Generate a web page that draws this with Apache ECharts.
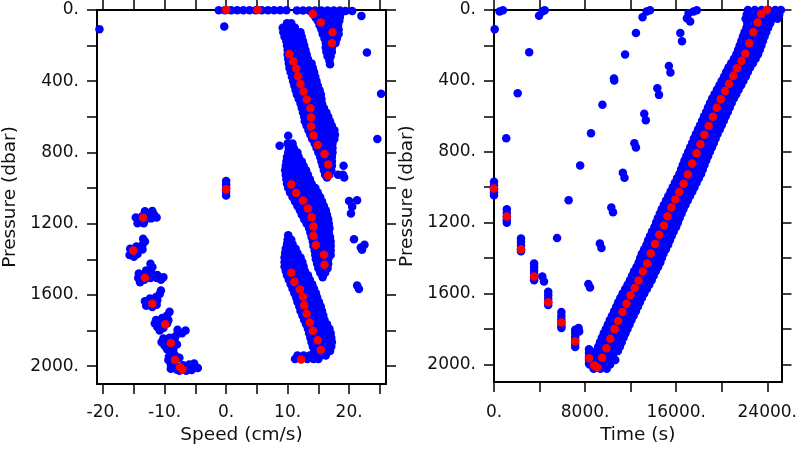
<!DOCTYPE html>
<html>
<head>
<meta charset="utf-8">
<script src="https://cdn.jsdelivr.net/npm/echarts@6/dist/echarts.min.js"></script>
<style>
html,body{margin:0;padding:0;background:#fff;}
#chart{width:800px;height:450px;}
</style>
</head>
<body>
<div id="chart"></div>
<script>
// ---------------- DATA ----------------
// Tick values and labels
const pressureTicks = [0, 200, 400, 600, 800, 1000, 1200, 1400, 1600, 1800, 2000];
const pressureLabels = [0, 400, 800, 1200, 1600, 2000];
const speedTicks = [-20, -15, -10, -5, 0, 5, 10, 15, 20, 25];
const speedLabels = [-20, -10, 0, 10, 20];
const timeTicks = [0, 4000, 8000, 12000, 16000, 20000, 24000];
const timeLabels = [0, 8000, 16000, 24000];

// Averaged profile (red): downcast and upcast
const redDownPressure = [1007, 1166, 1350, 1504, 1649, 1764, 1870, 1965, 2006, 2018];
const redDownSpeed = [0, -13.5, -15.1, -13.2, -12.0, -9.9, -9.0, -8.3, -7.5, -7.1];
const redDownTime = [0, 1126, 2372, 3524, 4762, 5918, 7130, 8346, 8805, 9093];
const redUpPressure = [1963, 1909, 1855, 1801, 1755, 1705, 1658, 1610, 1569, 1527,
  1476, 1430, 1374, 1320, 1268, 1216, 1164, 1114, 1070, 1027,
  980, 929, 867, 808, 758, 704, 654, 603, 552, 503,
  457, 416, 372, 329, 288, 247, 187, 125, 70, 23, 0];
const redUpSpeed = [12.2, 15.4, 14.9, 14.1, 13.6, 13.1, 12.7, 12.5, 12.0, 11.1,
  10.6, 16.0, 15.9, 14.6, 14.2, 14.2, 13.9, 13.3, 12.5, 11.4,
  10.6, 16.6, 16.6, 16.0, 14.9, 14.2, 13.8, 13.8, 13.7, 13.1,
  12.6, 12.1, 11.7, 11.4, 10.9, 10.3, 17.2, 17.3, 15.4, 14.1, 5.1];
const redUpTime = [9498, 9870, 10216, 10597, 10909, 11290, 11636, 11983, 12355, 12701,
  13074, 13450, 13766, 14147, 14519, 14926, 15238, 15584, 15931, 16277,
  16658, 17030, 17403, 17784, 18130, 18476, 18853, 19221, 19567, 19913,
  20294, 20641, 21013, 21333, 21732, 22078, 22424, 22771, 23152, 23463, 23957];
const surfaceRedSpeed = [0];
const surfaceRedPressure = [0];

// Individual estimates (blue), speed panel: rows [pressure, speed, speed, ...]
const speedSurfaceRows = [
  [2, -1.2, -0.2, 0.8, 1.8, 2.8, 3.8, 4.8, 5.8, 6.8, 7.8, 8.8, 9.8]
];
const speedTopBlobRows = [
  [3, 11.5, 12.5, 13.5, 14.5, 15.5, 16.5, 17.5, 18.5],
  [20, 14.1, 15.1, 16.1, 17.1, 18.1, 18.6],
  [40, 14.5, 15.5, 16.5, 17.5, 18.5],
  [60, 14.9, 15.9, 16.9, 17.9, 18.4],
  [85, 15.2, 16.2, 17.2, 18.2],
  [110, 15.5, 16.5, 17.5, 18.3],
  [135, 15.7, 16.7, 17.7, 18.3],
  [160, 16.0, 17.0, 18.0],
  [185, 16.2, 17.2, 17.8],
  [210, 16.2, 17.2],
  [235, 16.3, 17.2],
  [260, 16.5, 17.0],
  [285, 16.8],
  [305, 16.9]
];
const speedUpperBandRows = [
  [75, 9.9, 10.6],
  [100, 9.2, 10.2, 11.2],
  [125, 9.3, 10.3, 11.3, 12.1],
  [150, 9.5, 10.5, 11.5, 12.3],
  [175, 9.8, 10.8, 11.8, 12.5],
  [200, 9.9, 10.9, 11.9, 12.7],
  [225, 10.0, 11.0, 12.0, 12.9],
  [250, 10.0, 11.0, 12.0, 13.1],
  [275, 10.1, 11.1, 12.1, 13.3],
  [300, 10.2, 11.2, 12.2, 13.2, 13.9],
  [325, 10.3, 11.3, 12.3, 13.3, 14.1],
  [350, 10.5, 11.5, 12.5, 13.5, 14.3],
  [375, 10.7, 11.7, 12.7, 13.6, 14.5],
  [400, 10.9, 11.9, 12.9, 13.9, 14.7],
  [425, 11.1, 12.1, 13.1, 14.1, 14.9],
  [450, 11.3, 12.3, 13.3, 14.3, 15.2],
  [475, 11.5, 12.5, 13.5, 14.5, 15.4],
  [500, 11.8, 12.8, 13.8, 14.7, 15.5],
  [525, 12.1, 13.0, 14.0, 15.0, 15.6],
  [550, 12.3, 13.3, 14.3, 15.2, 15.9],
  [575, 12.5, 13.5, 14.5, 15.5, 16.3],
  [600, 12.7, 13.7, 14.7, 15.7, 16.6],
  [625, 12.8, 13.8, 14.8, 15.8, 16.9],
  [650, 13.1, 14.1, 15.1, 16.1, 17.2],
  [675, 13.4, 14.4, 15.4, 16.4, 17.6],
  [700, 13.7, 14.7, 15.7, 16.7, 17.7],
  [725, 14.0, 15.0, 16.0, 17.0, 17.6],
  [750, 14.4, 15.4, 16.4, 17.3],
  [775, 14.7, 15.6, 16.5, 17.3],
  [800, 15.0, 15.9, 16.8, 17.3],
  [825, 15.3, 16.2, 17.2],
  [850, 15.5, 16.4, 17.2],
  [875, 15.7, 16.5, 17.2, 19.1],
  [900, 15.9, 16.6, 17.1],
  [925, 16.1, 16.8, 18.2, 19.0],
  [940, 16.4, 19.2]
];
const speedMiddleBandRows = [
  [706, 10.1],
  [750, 10.0, 10.8],
  [775, 10.2, 11.0],
  [800, 10.1, 11.0, 11.6],
  [825, 9.9, 10.9, 11.8],
  [850, 9.8, 10.8, 11.8, 12.3],
  [875, 9.7, 10.7, 11.7, 12.6],
  [900, 9.6, 10.6, 11.6, 12.6, 13.0],
  [925, 9.7, 10.7, 11.7, 12.7, 13.3],
  [950, 9.8, 10.8, 11.8, 12.8, 13.6],
  [975, 9.9, 10.9, 11.9, 12.9, 13.9],
  [1000, 10.1, 11.1, 12.1, 13.1, 14.1, 14.5],
  [1025, 10.4, 11.4, 12.4, 13.4, 14.4, 14.9],
  [1050, 10.8, 11.8, 12.8, 13.8, 14.8, 15.3],
  [1075, 11.2, 12.2, 13.2, 14.2, 15.2, 15.6],
  [1100, 11.6, 12.6, 13.6, 14.6, 15.6, 15.9],
  [1125, 12.0, 13.0, 14.0, 15.0, 16.0, 16.2],
  [1150, 12.3, 13.3, 14.3, 15.3, 16.4],
  [1175, 12.7, 13.7, 14.7, 15.7, 16.6],
  [1200, 13.1, 14.1, 15.1, 16.1, 16.7],
  [1225, 13.5, 14.5, 15.5, 16.5, 16.8],
  [1250, 13.7, 14.7, 15.7, 16.7],
  [1275, 13.9, 14.9, 15.9, 16.9],
  [1300, 14.1, 15.1, 16.1, 17.0],
  [1325, 14.2, 15.2, 16.2, 17.0],
  [1350, 14.4, 15.4, 16.4, 17.0],
  [1375, 14.5, 15.5, 16.5, 17.0],
  [1400, 14.6, 15.6, 16.6],
  [1425, 14.8, 15.7, 16.6],
  [1450, 15.0, 15.9, 16.5],
  [1475, 15.3, 16.1],
  [1500, 15.7]
];
const speedLowerBandRows = [
  [1265, 10.1],
  [1290, 10.0, 10.6],
  [1315, 9.9, 10.8],
  [1340, 9.7, 10.7, 11.3],
  [1365, 9.6, 10.6, 11.6],
  [1390, 9.5, 10.5, 11.5, 12.1],
  [1415, 9.5, 10.5, 11.5, 12.4],
  [1440, 9.5, 10.5, 11.5, 12.6],
  [1465, 9.7, 10.7, 11.7, 12.8],
  [1490, 9.9, 10.9, 11.9, 12.9, 13.3],
  [1515, 10.2, 11.2, 12.2, 13.2, 13.6],
  [1540, 10.5, 11.5, 12.5, 13.5, 14.0],
  [1565, 10.8, 11.8, 12.8, 13.8, 14.3],
  [1590, 11.1, 12.1, 13.1, 14.1, 14.6],
  [1615, 11.4, 12.4, 13.4, 14.4, 14.8],
  [1640, 11.6, 12.6, 13.6, 14.6, 15.1],
  [1665, 11.9, 12.9, 13.9, 14.9, 15.4],
  [1690, 12.1, 13.1, 14.1, 15.1, 15.6],
  [1715, 12.4, 13.4, 14.4, 15.4, 15.8],
  [1740, 12.7, 13.7, 14.7, 15.7, 16.0],
  [1765, 13.0, 14.0, 15.0, 16.0, 16.4],
  [1790, 13.3, 14.3, 15.3, 16.3, 16.8],
  [1815, 13.5, 14.5, 15.5, 16.5, 17.0],
  [1840, 13.7, 14.7, 15.7, 16.7, 17.1],
  [1865, 13.9, 14.9, 15.9, 16.9, 17.2],
  [1890, 14.1, 15.1, 16.1, 17.1],
  [1915, 14.3, 15.3, 16.3, 16.9],
  [1940, 11.6, 12.6, 13.6, 14.5, 15.4, 16.2],
  [1960, 11.2, 12.2, 13.2, 14.2, 15.0]
];
// Individual points [speed, pressure]: downcast clusters and scattered values
const speedDownPoints = [
  [-14.7,1165],[-13.7,1160],[-12.7,1150],[-11.7,1150],[-11.3,1165],[-13.2,1130],[-12.0,1128],[-14.2,1185],[-13.2,1180],[-12.2,1170],[-14.4,1198],[-13.4,1198],
  [-13.5,1285],[-13.2,1300],[-13.6,1318],[-14.6,1328],[-15.6,1340],[-14.6,1350],[-13.6,1345],[-15.4,1365],[-14.4,1370],[-15.0,1385],[-15.7,1375],
  [-12.3,1425],[-12.0,1445],[-13.0,1462],[-14.2,1480],[-13.2,1485],[-12.2,1478],[-11.2,1488],[-10.2,1500],[-14.3,1505],[-13.3,1515],[-12.3,1505],[-14.0,1528],[-10.6,1515],[-11.3,1505],
  [-10.6,1575],[-10.8,1595],[-11.4,1612],[-12.4,1620],[-13.2,1635],[-12.2,1645],[-11.2,1630],[-13.0,1660],[-12.0,1668],[-11.3,1655],
  [-9.2,1695],[-9.6,1715],[-10.4,1730],[-11.4,1740],[-11.6,1760],[-10.6,1752],[-9.6,1760],[-11.2,1780],[-10.2,1785],[-10.8,1800],[-9.4,1742],
  [-7.9,1795],[-6.6,1800],[-7.2,1815],[-8.2,1830],[-9.2,1840],[-10.2,1845],[-10.5,1865],[-9.5,1865],[-8.4,1855],[-10.0,1885],[-9.0,1890],[-8.0,1878],[-9.6,1905],[-8.6,1910],
  [-9.3,1945],[-8.3,1940],[-7.6,1952],[-9.4,1965],[-8.6,1975],[-9.0,1990],[-8.0,2000],[-7.0,1995],[-6.0,1990],[-5.2,1985],[-5.0,2005],[-6.0,2010],[-7.0,2015],[-8.0,2020],[-9.0,2015],[-6.5,2025],[-5.6,2022],[-4.6,2010],[-7.6,2025]
];
const speedOtherPoints = [
  [0,960],[0,980],[0,1000],[0,1020],[0,1042],[-0.3,93],
  [-20.6,108],[22.0,33],[22.9,238],[25.2,470],[24.6,724],[8.7,762],
  [20.0,1073],[21.3,1068],[20.5,1105],[20.3,1142],[20.8,1287],[21.9,1333],[22.5,1318],[22.1,1346],
  [21.3,1547],[21.6,1566],[19.4,6],[20.5,6]
];

// Individual estimates (blue), time panel: rows [pressure, time, time, ...]
const timeBandRows = [
  [2025, 8750, 9350, 9900],
  [2000, 8400, 9000, 9600, 10200],
  [1975, 8400, 9000, 9600, 10200, 10650],
  [1950, 8900, 9500, 10100, 10450],
  [1925, 8980, 9615, 10250, 10885],
  [1900, 9150, 9785, 10420, 11055],
  [1875, 9310, 9945, 10580, 11215],
  [1850, 9470, 10105, 10740, 11375],
  [1825, 9640, 10275, 10910, 11545],
  [1800, 9820, 10455, 11090, 11725],
  [1775, 10000, 10635, 11270, 11905],
  [1750, 10170, 10805, 11440, 12075],
  [1725, 10360, 10995, 11630, 12265],
  [1700, 10550, 11185, 11820, 12455],
  [1675, 10730, 11365, 12000, 12635],
  [1650, 10910, 11545, 12180, 12815],
  [1625, 11090, 11725, 12360, 12995],
  [1600, 11290, 11925, 12560, 13195],
  [1575, 11520, 12155, 12790, 13425],
  [1550, 11730, 12365, 13000, 13635],
  [1525, 11940, 12575, 13210, 13845],
  [1500, 12120, 12755, 13390, 14025],
  [1475, 12300, 12935, 13570, 14205],
  [1450, 12510, 13145, 13780, 14415],
  [1425, 12700, 13335, 13970, 14605],
  [1400, 12840, 13475, 14110, 14745],
  [1375, 12980, 13615, 14250, 14885],
  [1350, 13190, 13825, 14460, 15095],
  [1325, 13390, 14025, 14660, 15295],
  [1300, 13540, 14175, 14810, 15445],
  [1275, 13700, 14335, 14970, 15605],
  [1250, 13880, 14515, 15150, 15785],
  [1225, 14090, 14725, 15360, 15995],
  [1200, 14240, 14875, 15510, 16145],
  [1175, 14390, 15025, 15660, 16295],
  [1150, 14560, 15195, 15830, 16465],
  [1125, 14730, 15365, 16000, 16635],
  [1100, 14910, 15545, 16180, 16815],
  [1075, 15110, 15745, 16380, 17015],
  [1050, 15310, 15945, 16580, 17215],
  [1025, 15510, 16145, 16780, 17415],
  [1000, 15700, 16335, 16970, 17605],
  [975, 15890, 16525, 17160, 17795],
  [950, 16080, 16715, 17350, 17985],
  [925, 16280, 16915, 17550, 18185],
  [900, 16430, 17065, 17700, 18335],
  [875, 16580, 17215, 17850, 18485],
  [850, 16730, 17365, 18000, 18635],
  [825, 16890, 17525, 18160, 18795],
  [800, 17060, 17695, 18330, 18965],
  [775, 17240, 17875, 18510, 19145],
  [750, 17400, 18035, 18670, 19305],
  [725, 17560, 18195, 18830, 19465],
  [700, 17730, 18365, 19000, 19635],
  [675, 17920, 18555, 19190, 19825],
  [650, 18100, 18735, 19370, 20005],
  [625, 18280, 18915, 19550, 20185],
  [600, 18450, 19085, 19720, 20355],
  [575, 18630, 19265, 19900, 20535],
  [550, 18800, 19435, 20070, 20705],
  [525, 18970, 19605, 20240, 20875],
  [500, 19160, 19795, 20430, 21065],
  [475, 19370, 20005, 20640, 21275],
  [450, 19580, 20215, 20850, 21485],
  [425, 19800, 20435, 21070, 21705],
  [400, 20000, 20635, 21270, 21905],
  [375, 20210, 20845, 21480, 22115],
  [350, 20390, 21025, 21660, 22295],
  [325, 20590, 21225, 21860, 22495],
  [300, 20830, 21465, 22100, 22735],
  [275, 21070, 21705, 22340, 22975],
  [250, 21290, 21925, 22560, 23195],
  [225, 21440, 22075, 22710, 23345],
  [200, 21580, 22215, 22850, 23485],
  [175, 21720, 22355, 22990, 23625],
  [150, 21860, 22495, 23130, 23765],
  [125, 22000, 22635, 23270, 23905],
  [100, 22170, 22805, 23440, 24075],
  [75, 22250, 22985, 23620, 24255],
  [50, 22100, 22700, 23300, 23900, 24450, 24900],
  [25, 22200, 22800, 23400, 24000, 24600, 25050],
  [0, 22300, 22900, 23500, 24100, 24700, 25200]
];
// Downcast vertical streaks: columns [time, pressure, pressure, ...]
const timeStreakCols = [
  [0, 970, 990, 1010, 1030, 1045],
  [1126, 1125, 1145, 1165, 1185, 1200],
  [2372, 1290, 1310, 1330, 1350, 1362],
  [3524, 1430, 1450, 1470, 1490, 1510, 1525],
  [4762, 1590, 1610, 1630, 1650, 1665],
  [5918, 1705, 1725, 1745, 1765, 1785, 1795],
  [7130, 1805, 1825, 1845, 1865, 1885, 1902],
  [8346, 1915, 1935, 1955, 1975, 1995]
];
// Scattered points [time, pressure]
const timeOtherPoints = [
  [61,108],[493,9],[779,2],[1074,724],[2078,470],[3091,238],[3957,33],[4242,9],[4450,2],
  [5541,1287],[6554,1073],[7567,878],[8519,696],[9524,535],[10537,386],[10560,398],[11515,251],[12468,130],[13048,41],[13400,8],[13700,2],
  [8286,1547],[8433,1566],[9299,1318],[9437,1343],[10303,1114],[10450,1142],[11316,919],[11460,947],[12329,752],[12468,776],
  [13195,585],[13333,622],[14346,442],[14490,479],[15359,316],[15497,353],[16364,130],[16511,176],[16944,46],[17230,65],[17090,19],[17524,9],[17810,2],
  [4242,1504],[4390,1532],[7430,1795],[7480,1815]
];

// ---------------- BUILD ----------------
function rowsToXY(rows) { // [p, x1, x2, ...] -> [[x, p], ...]
  const out = [];
  rows.forEach(r => r.slice(1).forEach(x => out.push([x, r[0]])));
  return out;
}
function colsToXY(cols) { // [x, p1, p2, ...] -> [[x, p], ...]
  const out = [];
  cols.forEach(c => c.slice(1).forEach(p => out.push([c[0], p])));
  return out;
}
function zip(xs, ps) { return xs.map((x, i) => [x, ps[i]]); }

const speedBlue = [].concat(
  rowsToXY(speedSurfaceRows), rowsToXY(speedTopBlobRows), rowsToXY(speedUpperBandRows),
  rowsToXY(speedMiddleBandRows), rowsToXY(speedLowerBandRows), speedDownPoints, speedOtherPoints);
const speedRed = [].concat(zip(surfaceRedSpeed, surfaceRedPressure), zip(redDownSpeed, redDownPressure), zip(redUpSpeed, redUpPressure));
const timeBlue = [].concat(rowsToXY(timeBandRows), colsToXY(timeStreakCols), timeOtherPoints);
const timeRed = [].concat(zip(redDownTime, redDownPressure), zip(redUpTime, redUpPressure));

const FONT = 'DejaVu Sans';
const TXT = '#111';
const NAME_SIZE = 18.5;
const lineAxis = { show: true, onZero: false, lineStyle: { color: '#000', width: 2 } };
const fmt = v => v + '.';

function xAxisDef(grid, min, max, ticks, labels, name, top, margin) {
  return {
    type: 'value', gridIndex: grid, min: min, max: max, position: top ? 'top' : 'bottom',
    axisLine: lineAxis,
    axisTick: { show: true, inside: false, length: 10, customValues: ticks, lineStyle: { color: '#000', width: 1.5 } },
    axisLabel: top ? { show: false } : { show: true, customValues: labels, formatter: fmt, margin: margin,
      fontFamily: FONT, fontSize: 17, color: TXT },
    splitLine: { show: false },
    name: top ? '' : name, nameLocation: 'middle', nameGap: 42,
    nameTextStyle: { fontFamily: FONT, fontSize: NAME_SIZE, color: TXT }
  };
}
function yAxisDef(grid, right) {
  return {
    type: 'value', gridIndex: grid, min: 0, max: 2100, inverse: true, position: right ? 'right' : 'left',
    axisLine: lineAxis,
    axisTick: { show: true, inside: false, length: 10, customValues: pressureTicks, lineStyle: { color: '#000', width: 1.5 } },
    axisLabel: right ? { show: false } : { show: true, customValues: pressureLabels, formatter: fmt, margin: 18,
      fontFamily: FONT, fontSize: 17, color: TXT },
    splitLine: { show: false },
    name: right ? '' : 'Pressure (dbar)', nameLocation: 'middle', nameGap: 77, nameRotate: 90,
    nameTextStyle: { fontFamily: FONT, fontSize: NAME_SIZE, color: TXT }
  };
}
function scatter(xi, yi, data, color, z) {
  return {
    type: 'scatter', xAxisIndex: xi, yAxisIndex: yi, data: data, symbol: 'circle', symbolSize: 8.5,
    itemStyle: { color: color, opacity: 1 }, z: z, large: false, clip: true, silent: true,
    emphasis: { disabled: true }
  };
}

const option = {
  animation: false,
  backgroundColor: '#fff',
  textStyle: { fontFamily: FONT },
  grid: [
    { left: 95, top: 10, width: 291, height: 377, containLabel: false },
    { left: 494, top: 10, width: 292, height: 377, containLabel: false }
  ],
  xAxis: [
    xAxisDef(0, -21, 26, speedTicks, speedLabels, 'Speed (cm/s)', false, 20),
    xAxisDef(0, -21, 26, speedTicks, speedLabels, '', true, 20),
    xAxisDef(1, 0, 25250, timeTicks, timeLabels, 'Time (s)', false, 22),
    xAxisDef(1, 0, 25250, timeTicks, timeLabels, '', true, 22)
  ],
  yAxis: [yAxisDef(0, false), yAxisDef(0, true), yAxisDef(1, false), yAxisDef(1, true)],
  series: [
    scatter(0, 0, speedBlue, '#0000ff', 2),
    scatter(0, 0, speedRed, '#ff0000', 3),
    scatter(2, 2, timeBlue, '#0000ff', 2),
    scatter(2, 2, timeRed, '#ff0000', 3)
  ]
};

const chart = echarts.init(document.getElementById('chart'), null, { renderer: 'canvas' });
chart.setOption(option);
</script>
</body>
</html>
